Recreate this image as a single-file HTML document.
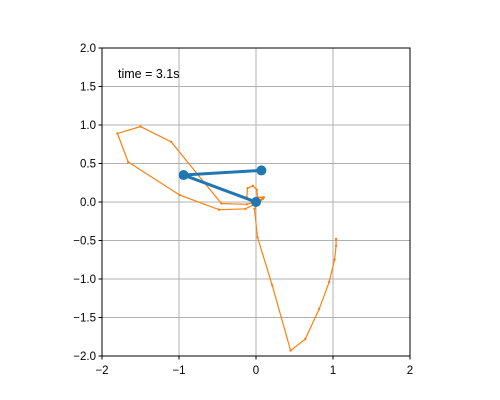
<!DOCTYPE html>
<html><head><meta charset="utf-8"><style>body{margin:0;background:#fff}svg{display:block;font-family:"Liberation Sans",sans-serif}</style></head>
<body>
<svg id="chart" width="500" height="400"></svg>
<script>
const xTicks=[-2,-1,0,1,2];
const yTicks=[-2.0,-1.5,-1.0,-0.5,0.0,0.5,1.0,1.5,2.0];
const traceX=[1.04,1.04,1.02,0.95,0.82,0.64,0.45,0.21,0.02,-0.02,0.03,0.09,0.10,0.02,0.01,-0.04,-0.11,-0.12,-0.05,0.0,-0.14,-0.48,-0.99,-1.66,-1.80,-1.50,-1.10,-0.45,-0.12,0.05,0.10,0.0];
const traceY=[-0.48,-0.57,-0.75,-1.04,-1.39,-1.78,-1.93,-1.08,-0.46,-0.09,-0.02,0.04,0.06,0.06,0.16,0.21,0.18,0.06,0.01,-0.02,-0.09,-0.10,0.09,0.52,0.89,0.98,0.78,-0.02,-0.03,0.02,0.06,0.0];
const armX=[0,-0.94,0.07];
const armY=[0,0.35,0.41];
const L=102,R=410,T=48,B=356;
const sx=v=>L+(v+2)/4*(R-L), sy=v=>B-(v+2)/4*(B-T);
const svg=document.getElementById('chart');const NS='http://www.w3.org/2000/svg';
function mk(t,a,p){const e=document.createElementNS(NS,t);for(const k in a)e.setAttribute(k,a[k]);(p||svg).appendChild(e);return e;}
xTicks.forEach(v=>{const g=mk('line',{x1:sx(v),x2:sx(v),y1:T,y2:B,stroke:'#b0b0b0','stroke-width':1});

const k=mk('line',{x1:sx(v),x2:sx(v),y1:B,y2:B+3.5,stroke:'#000'});
const t=mk('text',{x:sx(v),y:B+18,'text-anchor':'middle','font-size':11.5});t.textContent=v<0?'\u2212'+(-v):v;
});
yTicks.forEach(v=>{const g=mk('line',{x1:L,x2:R,y1:sy(v),y2:sy(v),stroke:'#b0b0b0','stroke-width':1});

const k=mk('line',{x1:L-3.5,x2:L,y1:sy(v),y2:sy(v),stroke:'#000'});
const t=mk('text',{x:L-6,y:sy(v)+4,'text-anchor':'end','font-size':11.5});t.textContent=(v<0?'\u2212':'')+Math.abs(v).toFixed(1);
});
const tr=mk('polyline',{points:traceX.map((x,i)=>sx(x)+','+sy(traceY[i])).join(' '),fill:'none',stroke:'#ff7f0e','stroke-width':1.2});

traceX.forEach((x,i)=>{const c=mk('circle',{cx:sx(x),cy:sy(traceY[i]),r:1.2,fill:'#ff7f0e'});});
const ar=mk('polyline',{points:armX.map((x,i)=>sx(x)+','+sy(armY[i])).join(' '),fill:'none',stroke:'#1f77b4','stroke-width':3});

armX.forEach((x,i)=>{const c=mk('circle',{cx:sx(x),cy:sy(armY[i]),r:5,fill:'#1f77b4'});});
const f=mk('rect',{x:L,y:T,width:R-L,height:B-T,fill:'none',stroke:'#000','stroke-width':1});
const tt=mk('text',{x:118,y:78,'font-size':12.5});tt.textContent='time = 3.1s';
</script>
</body></html>
